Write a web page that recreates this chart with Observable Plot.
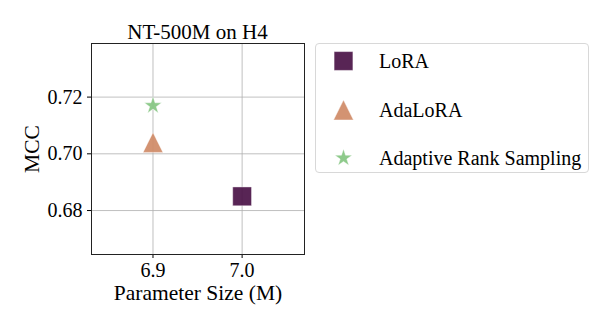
<!DOCTYPE html>
<html>
<head>
<meta charset="utf-8">
<script src="https://cdn.jsdelivr.net/npm/d3@7"></script>
<script src="https://cdn.jsdelivr.net/npm/@observablehq/plot@0.6"></script>
<style>
  html, body { margin: 0; padding: 0; background: white; }
  #wrap { position: relative; width: 614px; height: 327px; font-family: "Liberation Serif", "Times New Roman", serif; color: #000; }
  #title { position: absolute; left: 91px; width: 213px; top: 21.5px; text-align: center; font-size: 21px; line-height: 21px; white-space: nowrap; }
  #xlabel { position: absolute; left: 98px; width: 200px; top: 286.2px; height: 14px; text-align: center; font-size: 21.5px; line-height: 14px; white-space: nowrap; }
  #ylabel { position: absolute; left: -18.5px; width: 100px; top: 137.7px; height: 22px; text-align: center; font-size: 21.5px; line-height: 22px; white-space: nowrap; transform: rotate(-90deg); }
  #legend { position: absolute; left: 315px; top: 43px; width: 274px; height: 130px; border: 1px solid #d8d8d8; border-radius: 4px; box-sizing: border-box; }
  .row { position: absolute; left: 0; height: 30px; font-size: 20px; white-space: nowrap; }
  .row svg { position: absolute; left: 8px; top: 0; }
  .row span { position: absolute; left: 63px; line-height: 30px; top: 0; }
</style>
</head>
<body>
<div id="wrap">
  <div id="chart"></div>
  <div id="title"></div>
  <div id="xlabel"></div>
  <div id="ylabel"></div>
  <div id="legend"></div>
</div>
<script>
// ---- data ----
const title = "NT-500M on H4";
const methods = ["LoRA", "AdaLoRA", "Adaptive Rank Sampling"];
const paramSize = [7.0, 6.9, 6.9];
const mcc = [0.685, 0.704, 0.717];
const xTicks = [6.9, 7.0];
const yTicks = [0.68, 0.70, 0.72];
const xLabel = "Parameter Size (M)";
const yLabel = "MCC";

// ---- styles ----
const triangleUp = {
  draw(ctx, size) {
    const h = Math.sqrt(size) / 2;
    ctx.moveTo(0, -h); ctx.lineTo(h, h); ctx.lineTo(-h, h); ctx.closePath();
  }
};
const styleFor = {
  "LoRA": {symbol: d3.symbolSquare, fill: "#4a1247", r: 10.6},
  "AdaLoRA": {symbol: triangleUp, fill: "#cf8a66", r: 11.2},
  "Adaptive Rank Sampling": {symbol: d3.symbolStar, fill: "#84c681", r: 5.4}
};

const data = methods.map((m, i) => ({method: m, x: paramSize[i], y: mcc[i]}));

const font = "Liberation Serif, Times New Roman, serif";
const chart = Plot.plot({
  width: 614, height: 327,
  marginLeft: 91, marginRight: 310, marginTop: 43, marginBottom: 73,
  style: {fontFamily: font, fontSize: "20px", background: "white", color: "black", overflow: "visible"},
  x: {domain: [6.831, 7.070], ticks: xTicks, tickFormat: d3.format(".1f"), label: null, tickSize: 4, tickPadding: 4},
  y: {domain: [0.6645, 0.7389], ticks: yTicks, tickFormat: d3.format(".2f"), label: null, tickSize: 4, tickPadding: 5},
  marks: [
    Plot.gridX(xTicks, {stroke: "#b0b0b0", strokeOpacity: 0.8, strokeWidth: 1}),
    Plot.gridY(yTicks, {stroke: "#b0b0b0", strokeOpacity: 0.8, strokeWidth: 1}),
    ...methods.map(m => Plot.dot(data.filter(d => d.method === m), {
      x: "x", y: "y", symbol: styleFor[m].symbol, r: styleFor[m].r,
      fill: styleFor[m].fill, fillOpacity: 0.92, stroke: "white", strokeWidth: 0.4
    })),
    Plot.frame({stroke: "#222", strokeWidth: 1})
  ]
});
document.getElementById("chart").appendChild(chart);
document.getElementById("title").textContent = title;
document.getElementById("xlabel").textContent = xLabel;
document.getElementById("ylabel").textContent = yLabel;

// ---- legend ----
const legend = document.getElementById("legend");
const rowCenters = [16.5, 65.5, 113.5];
methods.forEach((m, i) => {
  const row = document.createElement("div");
  row.className = "row";
  row.style.top = (rowCenters[i] - 15) + "px";
  const s = styleFor[m];
  const path = d3.symbol(s.symbol, Math.PI * s.r * s.r)();
  const svg = d3.create("svg").attr("width", 40).attr("height", 30);
  svg.append("path").attr("d", path).attr("transform", "translate(19.5,15)")
    .attr("fill", s.fill).attr("fill-opacity", 0.92).attr("stroke", "white").attr("stroke-width", 0.4);
  row.appendChild(svg.node());
  const span = document.createElement("span");
  span.textContent = m;
  row.appendChild(span);
  legend.appendChild(row);
});
</script>
</body>
</html>
